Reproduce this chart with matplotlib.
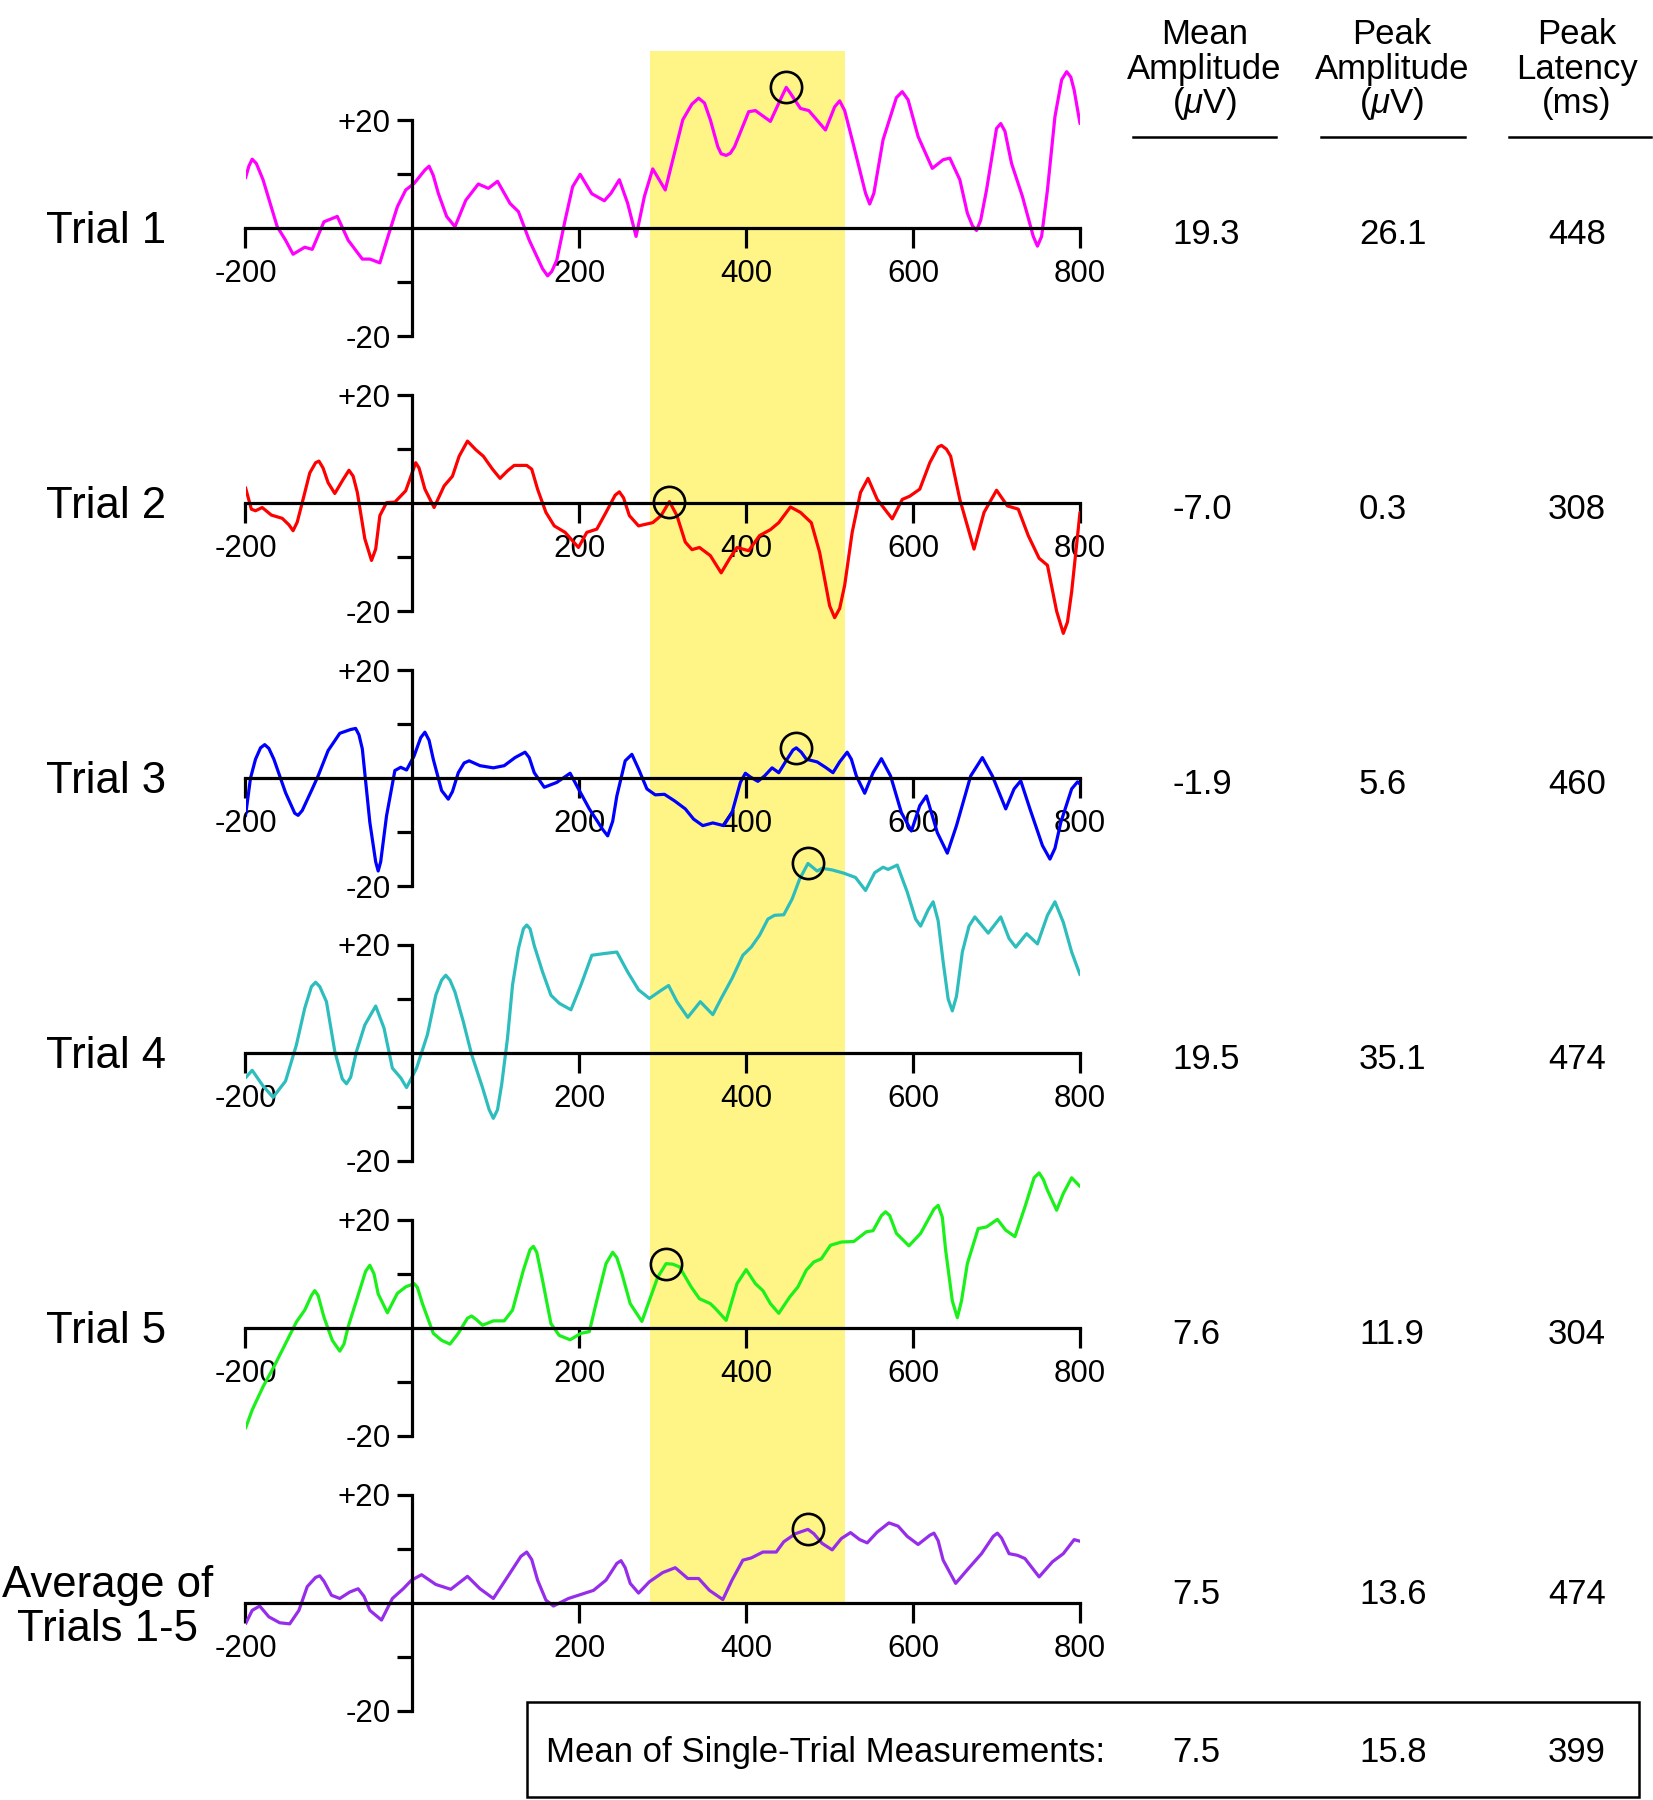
import numpy as np
import matplotlib.pyplot as plt
from matplotlib.lines import Line2D
from matplotlib.patches import Rectangle

plt.rcParams['font.family'] = ['Liberation Sans', 'DejaVu Sans']
plt.rcParams['mathtext.fontset'] = 'custom'
plt.rcParams['mathtext.rm'] = 'Liberation Sans'
plt.rcParams['mathtext.it'] = 'Liberation Sans:italic'

# ---- data (time in ms, amplitude in microvolts) ----
trial1_ms = [-200, -196, -192, -187, -179, -162, -152, -143, -129, -120, -106, -90, -77, -60, -51, -39,
             -28, -18, -8, 2, 15, 20, 25, 31, 41, 51, 64, 79, 91, 102, 117, 127, 140, 156, 162, 167,
             173, 183, 192, 201, 215, 230, 238, 248, 258, 268, 278, 288, 303, 314, 324, 335, 343, 350,
             357, 366, 370, 376, 381, 386, 403, 411, 429, 443, 448, 453, 465, 475, 495, 506, 512, 518,
             527, 543, 548, 553, 564, 580, 587, 594, 606, 623, 636, 644, 656, 665, 671, 676, 681, 688,
             700, 705, 710, 718, 731, 744, 749, 754, 761, 770, 778, 784, 789, 793, 800]
trial1_uv = [9.3, 11.5, 12.8, 12.0, 9.0, 0.3, -2.2, -4.8, -3.5, -3.9, 1.2, 2.2, -2.2, -5.7, -5.7, -6.4,
             -0.9, 4.0, 7.1, 8.3, 10.8, 11.5, 9.8, 6.5, 2.2, 0.3, 5.2, 8.2, 7.4, 8.7, 4.6, 3.1, -2.2, -7.5, -8.8, -8.0,
             -5.9, 1.5, 7.7, 10.0, 6.4, 5.1, 6.5, 9.0, 4.6, -1.5, 5.9, 11.0, 7.1, 13.9, 20.1, 23.0, 24.1, 23.2,
             20.1, 15.1, 13.8, 13.5, 13.9, 15.1, 21.6, 21.8, 19.8, 24.5, 26.1, 25.0, 22.2, 21.8, 18.2, 22.5, 23.6, 21.8,
             16.4, 6.5, 4.5, 6.5, 16.4, 24.2, 25.3, 23.8, 17.0, 11.1, 12.7, 13.0, 9.0, 2.8, 0.5, -0.4, 1.5, 7.1,
             18.5, 19.4, 18.0, 12.0, 5.9, -1.5, -3.3, -1.5, 7.1, 20.7, 27.5, 29.0, 28.0, 25.6, 19.4]

trial2_ms = [-200, -193, -188, -180, -169, -156, -148, -143, -138, -133, -123, -116, -112, -107, -101, -93,
             -83, -76, -71, -66, -57, -49, -44, -39, -31, -21, -8, 4, 8, 15, 26, 38, 48, 56, 66, 76, 85,
             96, 105, 114, 122, 137, 143, 150, 160, 170, 183, 199, 209, 221, 232, 243, 248, 253, 260, 271,
             288, 298, 308, 317, 327, 335, 344, 357, 370, 380, 389, 403, 416, 429, 439, 453, 465, 478, 488,
             500, 506, 512, 518, 527, 537, 546, 557, 575, 587, 596, 608, 620, 630, 634, 640, 645, 656, 673,
             685, 700, 713, 726, 738, 751, 761, 772, 780, 785, 790, 800]
trial2_uv = [2.9, -1.1, -1.4, -0.8, -2.2, -2.8, -4.0, -5.1, -3.5, -0.5, 5.6, 7.5, 7.8, 6.5, 3.8, 1.8,
             4.4, 6.1, 5.0, 2.0, -6.6, -10.6, -8.5, -2.3, 0.1, 0.2, 2.3, 7.5, 6.5, 2.6, -0.8, 3.2, 5.0, 8.7, 11.5, 9.9, 8.7,
             6.3, 4.6, 6.0, 7.0, 7.0, 6.3, 2.6, -1.7, -4.2, -5.4, -8.2, -5.4, -4.8, -1.7, 1.5, 2.1, 1.0, -2.3, -4.2,
             -3.6, -2.3, 0.3, -2.3, -7.2, -8.6, -8.2, -9.7, -12.9, -10.3, -8.2, -8.8, -6.0, -4.9, -3.6, -0.7, -1.7, -3.6, -9.1,
             -19.0, -21.2, -19.5, -15.2, -5.4, 2.0, 4.6, 0.7, -2.9, 0.7, 1.3, 2.6, 7.5, 10.4, 10.7, 10.0, 8.7, 0.7, -8.5,
             -1.7, 2.4, -0.5, -1.1, -6.0, -10.2, -11.5, -20.0, -24.1, -22.0, -16.4, -1.7]

trial3_ms = [-200, -194, -188, -182, -177, -172, -166, -152, -141, -137, -132, -120, -113, -101, -87, -74,
             -68, -64, -60, -51, -44, -41, -38, -31, -21, -14, -7, 2, 10, 15, 20, 25, 35, 43, 48, 55, 62,
             68, 81, 97, 110, 123, 135, 140, 146, 158, 173, 189, 199, 212, 228, 234, 240, 245, 255, 263, 271,
             281, 291, 302, 314, 327, 337, 348, 360, 373, 383, 393, 399, 405, 414, 422, 431, 439, 449, 456,
             460, 466, 472, 485, 495, 504, 512, 521, 526, 532, 542, 552, 562, 573, 586, 598, 608, 616, 629,
             641, 652, 669, 683, 695, 711, 721, 729, 740, 755, 764, 770, 777, 790, 797, 800]
trial3_uv = [-7.0, 0.0, 3.5, 5.6, 6.2, 5.5, 3.5, -2.7, -6.5, -6.9, -6.0, -2.0, 0.4, 5.1, 8.3, 9.0,
             9.2, 8.0, 5.4, -8.2, -15.5, -17.2, -15.5, -7.0, 1.4, 2.0, 1.5, 4.1, 7.5, 8.5, 7.0, 3.5, -2.3, -3.9, -2.5, 1.0, 2.8,
             3.2, 2.3, 1.9, 2.3, 3.8, 4.8, 3.8, 1.0, -1.7, -0.8, 0.9, -2.0, -5.7, -9.5, -10.7, -8.0, -3.3, 3.2, 4.4, 1.7,
             -2.0, -3.1, -3.0, -4.2, -5.7, -7.6, -8.8, -8.3, -8.8, -6.4, -0.8, 0.9, 0.2, -0.6, 0.4, 1.9, 1.0, 3.5, 5.2,
             5.6, 4.8, 3.5, 3.0, 2.0, 1.0, 3.0, 4.8, 3.5, 0.4, -2.8, 1.0, 3.6, 0.4, -6.4, -9.8, -5.1, -3.3, -10.1,
             -13.9, -8.8, 0.4, 3.8, 0.4, -5.7, -2.0, -0.5, -5.7, -12.5, -15.0, -13.0, -8.2, -2.0, -0.7, -1.1]

trial4_ms = [-200, -192, -179, -167, -152, -139, -129, -121, -116, -111, -103, -93, -84, -79, -74, -67,
             -57, -44, -34, -24, -14, -7, 5, 18, 28, 35, 40, 45, 51, 61, 71, 84, 92, 97, 102, 107, 114,
             120, 127, 133, 137, 141, 146, 156, 166, 176, 190, 202, 215, 229, 245, 258, 271, 284, 297, 307,
             317, 330, 345, 360, 370, 383, 396, 406, 416, 426, 434, 445, 455, 464, 474, 485, 491, 503, 517,
             531, 543, 554, 564, 570, 581, 593, 603, 609, 618, 624, 630, 636, 642, 647, 652, 659, 667, 674,
             690, 705, 715, 723, 736, 749, 761, 770, 780, 790, 800]
trial4_uv = [-4.6, -3.2, -6.1, -8.2, -5.2, 1.5, 8.3, 12.3, 13.1, 12.3, 9.5, 0.3, -4.8, -5.7, -4.5, 0.3,
             5.2, 8.7, 4.6, -2.8, -4.6, -6.4, -2.8, 3.4, 10.7, 13.5, 14.4, 13.5, 11.3, 5.8, -0.3, -6.4, -10.5, -12.1, -10.5, -5.8, 2.8,
             12.6, 19.3, 23.0, 23.7, 23.0, 19.9, 15.0, 10.7, 9.2, 8.0, 12.6, 18.1, 18.4, 18.7, 15.0, 11.7, 10.1, 11.5, 12.5,
             9.5, 6.6, 9.5, 7.1, 10.1, 13.8, 18.1, 19.6, 21.8, 24.8, 25.5, 25.6, 28.5, 32.2, 35.1, 33.7, 34.2, 33.9, 33.3,
             32.5, 30.1, 33.4, 34.4, 34.0, 34.8, 29.8, 24.8, 23.5, 26.5, 28.0, 24.5, 16.9, 10.0, 7.8, 10.5, 18.7, 23.5, 25.2,
             22.2, 25.2, 21.2, 19.6, 22.1, 20.2, 25.5, 28.0, 24.2, 18.7, 14.5]

trial5_ms = [-200, -192, -179, -166, -152, -139, -129, -121, -117, -113, -106, -96, -87, -82, -77, -67,
             -56, -51, -46, -41, -30, -18, -8, 2, 6, 12, 25, 35, 45, 55, 66, 71, 77, 84, 97, 110, 120,
             133, 141, 145, 149, 156, 166, 176, 189, 202, 212, 221, 232, 240, 245, 251, 261, 275, 284, 294,
             304, 312, 320, 334, 344, 357, 363, 376, 389, 400, 411, 420, 429, 439, 452, 462, 472, 481, 490,
             501, 514, 529, 544, 552, 562, 567, 572, 580, 595, 609, 625, 630, 635, 639, 647, 653, 658, 665,
             678, 688, 701, 711, 722, 734, 745, 751, 756, 761, 772, 780, 790, 800]
trial5_uv = [-18.6, -15.2, -10.9, -7.2, -2.9, 1.1, 3.3, 6.0, 6.9, 6.0, 2.0, -2.3, -4.3, -3.0, 0.2, 5.1,
             10.5, 11.6, 10.0, 6.3, 2.8, 6.4, 7.6, 8.2, 7.5, 4.5, -1.0, -2.3, -3.0, -1.0, 1.8, 2.2, 1.5, 0.5, 1.3, 1.3, 3.3,
             10.7, 14.5, 15.1, 14.0, 8.8, 0.8, -1.4, -2.2, -1.0, -0.7, 5.1, 11.9, 14.0, 13.0, 10.1, 4.5, 1.2, 5.1, 9.4,
             11.9, 11.8, 11.3, 7.6, 5.4, 4.5, 3.6, 1.4, 8.2, 10.8, 8.2, 6.9, 4.5, 2.7, 5.7, 7.6, 10.7, 12.2, 12.8,
             15.3, 15.9, 16.0, 17.8, 18.0, 20.8, 21.5, 20.8, 17.5, 15.2, 17.5, 22.0, 22.7, 20.5, 14.4, 5.0, 1.9, 5.0, 11.9,
             18.4, 18.7, 20.1, 18.1, 16.9, 22.4, 27.8, 28.7, 27.5, 25.5, 21.8, 24.9, 27.8, 26.2]

avg_ms = [-200, -192, -183, -172, -159, -147, -136, -126, -116, -111, -106, -97, -87, -75, -65, -58,
          -51, -37, -24, -11, -1, 11, 28, 46, 66, 81, 97, 114, 130, 137, 143, 150, 160, 169, 187, 217,
          232, 245, 250, 255, 261, 271, 284, 300, 315, 330, 343, 356, 372, 383, 396, 406, 420, 436, 445,
          459, 474, 481, 491, 503, 514, 525, 536, 545, 557, 571, 582, 593, 606, 620, 625, 630, 636, 651,
          666, 682, 696, 701, 706, 715, 725, 734, 751, 767, 780, 793, 800]
avg_uv = [-3.9, -1.4, -0.6, -2.6, -3.7, -3.9, -1.4, 3.0, 4.7, 5.0, 4.0, 1.4, 0.8, 2.0, 2.6, 1.2,
          -1.4, -3.2, 0.8, 2.6, 4.2, 5.2, 3.4, 2.5, 4.9, 2.6, 0.8, 4.8, 8.6, 9.4, 8.0, 4.2, 0.5, -0.6, 0.8, 2.3,
          4.2, 7.3, 7.8, 6.5, 3.6, 1.8, 3.9, 5.6, 6.5, 4.5, 4.5, 2.3, 0.6, 4.2, 7.9, 8.3, 9.4, 9.4, 11.3,
          12.8, 13.6, 12.8, 11.0, 9.8, 11.9, 13.0, 11.7, 11.1, 13.1, 14.8, 14.2, 12.3, 10.8, 12.5, 12.9, 11.5, 7.9, 3.6,
          6.3, 9.1, 12.3, 12.9, 12.0, 9.1, 8.8, 8.2, 4.8, 7.6, 9.1, 11.7, 11.4]

row_labels = [['Trial 1'], ['Trial 2'], ['Trial 3'], ['Trial 4'], ['Trial 5'], ['Average of', 'Trials 1-5']]
trace_ms = [trial1_ms, trial2_ms, trial3_ms, trial4_ms, trial5_ms, avg_ms]
trace_uv = [trial1_uv, trial2_uv, trial3_uv, trial4_uv, trial5_uv, avg_uv]
colors = ['#FF00FF', '#FF0000', '#0000FF', '#2EBDBD', '#1AF01A', '#962DEB']

mean_amp = [19.3, -7.0, -1.9, 19.5, 7.6, 7.5]
peak_amp = [26.1, 0.3, 5.6, 35.1, 11.9, 13.6]
peak_lat = [448, 308, 460, 474, 304, 474]
single_trial_mean = [7.5, 15.8, 399]
window = (285, 518)

col_headers = [['Mean', 'Amplitude', r'($\mu$V)'], ['Peak', 'Amplitude', r'($\mu$V)'], ['Peak', 'Latency', '(ms)']]

# ---- layout (pixels of the 1653 x 1800 canvas) ----
W, H = 1653, 1800
X0, X1 = 245.5, 1080.0
PX_UV = 5.4
rows_y = [228.3 + i * 274.9 for i in range(6)]

fig = plt.figure(figsize=(W / 100, H / 100), dpi=100)


def fx(px):
    return px / W


def fy(px):
    return 1 - px / H


# yellow measurement window behind everything
bg = fig.add_axes([fx(X0), fy(rows_y[-1]), fx(X1) - fx(X0), (rows_y[-1] - 50.7) / H])
bg.set_xlim(-200, 800)
bg.set_ylim(0, 1)
bg.axvspan(*window, color='#FFF587', lw=0)
bg.axis('off')

for i in range(6):
    yc = rows_y[i]
    ax = fig.add_axes([fx(X0), fy(yc + 50 * PX_UV), fx(X1) - fx(X0), 100 * PX_UV / H])
    ax.set_xlim(-200, 800)
    ax.set_ylim(-50, 50)
    ax.patch.set_visible(False)
    ax.spines['top'].set_visible(False)
    ax.spines['right'].set_visible(False)
    ax.spines['bottom'].set_position(('data', 0))
    ax.spines['bottom'].set_bounds(-200, 800)
    ax.spines['left'].set_position(('data', 0))
    ax.spines['left'].set_bounds(-20, 20)
    for s in ['bottom', 'left']:
        ax.spines[s].set_linewidth(2.3)
    ax.set_xticks([-200, 200, 400, 600, 800], labels=['-200', '200', '400', '600', '800'])
    ax.set_yticks([-20, -10, 10, 20], labels=['-20', '', '', '+20'])
    ax.tick_params(axis='x', direction='out', length=14.4, width=2.3, pad=8, labelsize=22.5)
    ax.tick_params(axis='y', direction='out', length=10.8, width=2.3, pad=5, labelsize=22.5)

    ax.plot(trace_ms[i], trace_uv[i], color=colors[i], lw=2.3,
            solid_joinstyle='round', solid_capstyle='round')
    ax.plot(peak_lat[i], peak_amp[i], 'o', ms=22.5, mfc='none', mec='black', mew=1.9)

    # row label
    lines = row_labels[i]
    if len(lines) == 1:
        fig.text(fx(106), fy(yc + 15), lines[0], ha='center', va='baseline', fontsize=31.5)
    else:
        fig.text(fx(108), fy(yc - 6), lines[0], ha='center', va='baseline', fontsize=31.5)
        fig.text(fx(108), fy(yc + 38), lines[1], ha='center', va='baseline', fontsize=31.5)

    # table values
    vy = yc + 16 if i < 5 else yc + 1
    fig.text(fx(1172), fy(vy), f'{mean_amp[i]:.1f}', ha='left', va='baseline', fontsize=25)
    fig.text(fx(1359), fy(vy), f'{peak_amp[i]:.1f}', ha='left', va='baseline', fontsize=25)
    fig.text(fx(1548), fy(vy), f'{peak_lat[i]:d}', ha='left', va='baseline', fontsize=25)

# column headers and rules
col_cx = [1204.5, 1392, 1577]
rule_x = [(1133, 1275.5), (1321, 1465), (1508.5, 1651)]
for cx, hdr, (ra, rb) in zip(col_cx, col_headers, rule_x):
    for k, s in enumerate(hdr):
        fig.text(fx(cx), fy(44 + 34.5 * k), s, ha='center', va='baseline', fontsize=25)
    fig.add_artist(Line2D([fx(ra), fx(rb)], [fy(136.7), fy(136.7)], color='black', lw=1.8))

# summary box
fig.add_artist(Rectangle((fx(527), fy(1797)), fx(1639) - fx(527), (1797 - 1701.5) / H,
                         fill=False, ec='black', lw=1.8))
fig.text(fx(546), fy(1762), 'Mean of Single-Trial Measurements:', ha='left', va='baseline', fontsize=25)
fig.text(fx(1172), fy(1762), f'{single_trial_mean[0]:.1f}', ha='left', va='baseline', fontsize=25)
fig.text(fx(1359), fy(1762), f'{single_trial_mean[1]:.1f}', ha='left', va='baseline', fontsize=25)
fig.text(fx(1548), fy(1762), f'{single_trial_mean[2]:d}', ha='left', va='baseline', fontsize=25)

fig.savefig('out.png', dpi=100, facecolor='white')
